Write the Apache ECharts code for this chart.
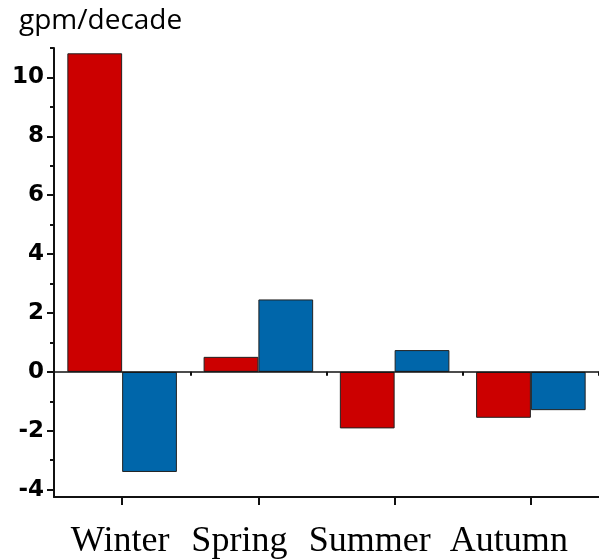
<!DOCTYPE html>
<html>
<head>
<meta charset="utf-8">
<script src="https://cdn.jsdelivr.net/npm/echarts@6/dist/echarts.min.js"></script>
<style>
  html, body { margin: 0; padding: 0; background: #fff; }
  #chart { width: 599px; height: 560px; }
</style>
</head>
<body>
<div id="chart"></div>
<script>
// Seasonal trends (gpm per decade) for two quantities
const seasons = ['Winter', 'Spring', 'Summer', 'Autumn'];
const redValues = [10.82, 0.51, -1.92, -1.56];
const blueValues = [-3.40, 2.46, 0.74, -1.30];
const majorTicks = [-4, -2, 0, 2, 4, 6, 8, 10];
const minorTicks = [-3, -1, 1, 3, 5, 7, 9, 11];
const yMin = -4.25;
const yMax = 11;
const unitLabel = 'gpm/decade';

const chart = echarts.init(document.getElementById('chart'), null, { renderer: 'canvas' });

const axisColor = '#111';

// The season names sit on one typed line, slightly left of each tick;
// each name gets its own right padding to nudge it leftwards (px).
const seasonNudge = [-2, -19, -25, -22];
const seasonFont = { fontFamily: 'Liberation Serif', fontSize: 36, color: '#000' };
const seasonRich = {};
seasonNudge.forEach(function (d, i) {
  seasonRich['s' + i] = Object.assign({ padding: [0, -2 * d, 0, 0] }, seasonFont);
});

chart.setOption({
  animation: false,
  backgroundColor: '#fff',
  title: {
    text: unitLabel,
    left: 14,
    top: 2,
    textStyle: {
      fontFamily: 'Open Sans',
      fontWeight: 'normal',
      fontSize: 28,
      color: '#000'
    }
  },
  grid: { left: 54, top: 48, width: 547, height: 449 },
  xAxis: [
    {
      type: 'category',
      data: seasons,
      position: 'bottom',
      axisLine: { show: true, onZero: false, lineStyle: { color: axisColor, width: 2 } },
      axisTick: { show: true, alignWithLabel: true, length: 8, lineStyle: { color: axisColor, width: 2 } },
      axisLabel: Object.assign({
        interval: 0,
        hideOverlap: false,
        margin: 27,
        formatter: function (value, index) {
          return '{s' + index + '|' + value + '}';
        },
        rich: seasonRich
      }, seasonFont),
      splitLine: { show: false }
    },
    {
      type: 'category',
      data: seasons,
      position: 'bottom',
      axisLine: { show: false },
      axisTick: { show: true, interval: 0, length: 4, lineStyle: { color: axisColor, width: 2 } },
      axisLabel: { show: false },
      splitLine: { show: false }
    }
  ],
  yAxis: [
    {
      type: 'value',
      min: yMin,
      max: yMax,
      position: 'left',
      axisLine: { show: true, lineStyle: { color: axisColor, width: 2 } },
      axisTick: { show: true, customValues: majorTicks, length: 7, lineStyle: { color: axisColor, width: 2 } },
      axisLabel: {
        customValues: majorTicks,
        margin: 10,
        fontFamily: 'DejaVu Sans',
        fontWeight: 'bold',
        fontSize: 23,
        color: '#000'
      },
      splitLine: { show: false }
    },
    {
      type: 'value',
      min: yMin,
      max: yMax,
      position: 'left',
      axisLine: { show: false },
      axisTick: { show: true, customValues: minorTicks, length: 4, lineStyle: { color: axisColor, width: 2 } },
      axisLabel: { show: false },
      splitLine: { show: false }
    }
  ],
  series: [
    {
      type: 'bar',
      data: redValues,
      xAxisIndex: 0,
      yAxisIndex: 0,
      barGap: '0%',
      barCategoryGap: '19.6%',
      itemStyle: { color: '#CC0000', borderColor: '#222', borderWidth: 1 },
      markLine: {
        silent: true,
        symbol: 'none',
        label: { show: false },
        lineStyle: { color: '#111', width: 1.5, type: 'solid' },
        data: [{ yAxis: 0 }]
      }
    },
    {
      type: 'bar',
      data: blueValues,
      xAxisIndex: 0,
      yAxisIndex: 0,
      barGap: '0%',
      barCategoryGap: '19.6%',
      itemStyle: { color: '#0066AA', borderColor: '#222', borderWidth: 1 }
    }
  ]
});
</script>
</body>
</html>
